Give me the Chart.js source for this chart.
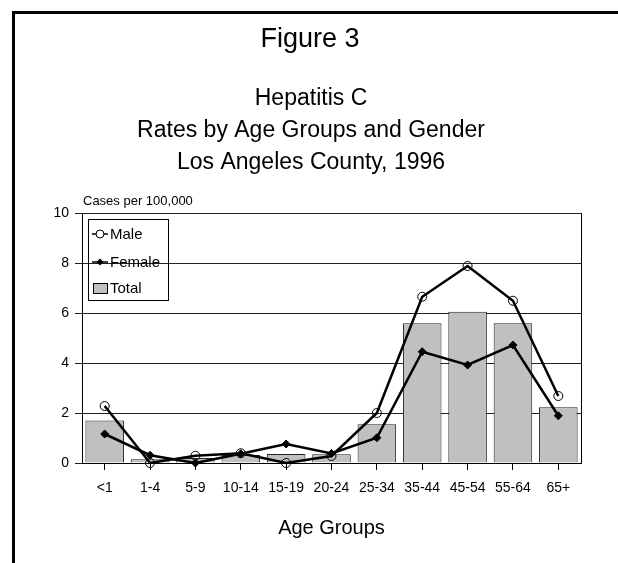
<!DOCTYPE html>
<html>
<head>
<meta charset="utf-8">
<script src="https://cdn.jsdelivr.net/npm/chart.js@4/dist/chart.umd.min.js"></script>
<style>
  html, body { margin: 0; padding: 0; background: #fff; }
  #wrap { width: 618px; height: 563px; position: relative; }
</style>
</head>
<body>
<div id="wrap"><canvas id="c" width="618" height="563"></canvas></div>
<script>
const categories = ['<1', '1-4', '5-9', '10-14', '15-19', '20-24', '25-34', '35-44', '45-54', '55-64', '65+'];
const maleRates = [2.28, 0, 0.29, 0.39, 0, 0.28, 2.0, 6.65, 7.88, 6.49, 2.68];
const femaleRates = [1.16, 0.31, 0, 0.37, 0.76, 0.38, 1.01, 4.45, 3.92, 4.72, 1.89];
const totalRates = [1.7, 0.15, 0.2, 0.32, 0.36, 0.35, 1.55, 5.59, 6.05, 5.59, 2.23];
const seriesNames = ['Male', 'Female', 'Total'];
const figureLabel = 'Figure 3';
const titleLines = ['Hepatitis C', 'Rates by Age Groups and Gender', 'Los Angeles County, 1996'];
const yUnitLabel = 'Cases per 100,000';
const xAxisTitle = 'Age Groups';
const yTicks = [0, 2, 4, 6, 8, 10];

const FONT = "'Liberation Sans', Arial, Helvetica, sans-serif";

const decor = {
  id: 'decor',
  beforeDraw(chart) {
    const ctx = chart.ctx;
    ctx.save();
    ctx.fillStyle = '#000';
    // frame: top and left edges
    ctx.fillRect(12, 11, 618 - 12, 3);
    ctx.fillRect(12, 11, 3, 563 - 11);
    // titles
    ctx.textAlign = 'center';
    ctx.textBaseline = 'alphabetic';
    ctx.font = '27px ' + FONT;
    ctx.fillText(figureLabel, 310, 47);
    ctx.font = '23px ' + FONT;
    const bases = [105, 137, 169];
    titleLines.forEach((t, i) => ctx.fillText(t, 311, bases[i]));
    // y unit label
    ctx.textAlign = 'left';
    ctx.font = '13px ' + FONT;
    ctx.fillText(yUnitLabel, 83, 205);
    ctx.restore();
  },
  afterDraw(chart) {
    const ctx = chart.ctx;
    const a = chart.chartArea;
    ctx.save();
    // right border of plot
    ctx.strokeStyle = '#000';
    ctx.lineWidth = 1;
    ctx.beginPath();
    ctx.moveTo(Math.round(a.right) + 0.5, a.top);
    ctx.lineTo(Math.round(a.right) + 0.5, a.bottom);
    ctx.stroke();
    // legend box
    const lx = a.left + 6, ly = a.top + 6, lw = 80, lh = 81;
    ctx.strokeRect(lx + 0.5, ly + 0.5, lw, lh);
    ctx.font = '15px ' + FONT;
    ctx.textBaseline = 'middle';
    ctx.textAlign = 'left';
    ctx.fillStyle = '#000';
    const rows = [ly + 15, ly + 43, ly + 69];
    // Male
    ctx.lineWidth = 1.5;
    ctx.beginPath(); ctx.moveTo(lx + 4, rows[0]); ctx.lineTo(lx + 20, rows[0]); ctx.stroke();
    ctx.lineWidth = 1;
    ctx.beginPath(); ctx.arc(lx + 12, rows[0], 4, 0, Math.PI * 2);
    ctx.fillStyle = '#fff'; ctx.fill(); ctx.stroke();
    ctx.fillStyle = '#000';
    ctx.fillText(seriesNames[0], lx + 22, rows[0] + 1);
    // Female
    ctx.lineWidth = 1.5;
    ctx.beginPath(); ctx.moveTo(lx + 4, rows[1]); ctx.lineTo(lx + 20, rows[1]); ctx.stroke();
    ctx.beginPath();
    ctx.moveTo(lx + 12, rows[1] - 3.5); ctx.lineTo(lx + 15.5, rows[1]);
    ctx.lineTo(lx + 12, rows[1] + 3.5); ctx.lineTo(lx + 8.5, rows[1]); ctx.closePath();
    ctx.fill();
    ctx.fillText(seriesNames[1], lx + 22, rows[1] + 1);
    // Total
    ctx.lineWidth = 1;
    ctx.fillStyle = '#c0c0c0';
    ctx.fillRect(lx + 5, rows[2] - 5, 14, 10);
    ctx.strokeRect(lx + 5.5, rows[2] - 4.5, 14, 10);
    ctx.fillStyle = '#000';
    ctx.fillText(seriesNames[2], lx + 22, rows[2] + 1);
    ctx.restore();
  }
};

new Chart(document.getElementById('c'), {
  data: {
    labels: categories,
    datasets: [
      {
        type: 'line', label: seriesNames[0], data: maleRates, order: 1,
        borderColor: '#000', borderWidth: 2.5, pointStyle: 'circle', pointRadius: 4.5,
        pointBackgroundColor: 'rgba(0,0,0,0)', pointBorderColor: '#000', pointBorderWidth: 1,
        tension: 0, clip: false
      },
      {
        type: 'line', label: seriesNames[1], data: femaleRates, order: 0,
        borderColor: '#000', borderWidth: 2.5, pointStyle: 'rectRot', pointRadius: 4,
        pointBackgroundColor: '#000', pointBorderColor: '#000', pointBorderWidth: 1,
        tension: 0, clip: false
      },
      {
        type: 'bar', label: seriesNames[2], data: totalRates, order: 2,
        backgroundColor: '#c0c0c0', borderColor: '#222', borderWidth: 1,
        categoryPercentage: 1, barPercentage: 0.85
      }
    ]
  },
  options: {
    responsive: false,
    animation: false,
    devicePixelRatio: 1,
    layout: { padding: { top: 213, left: 40, right: 37, bottom: 0 } },
    plugins: { legend: { display: false }, title: { display: false }, tooltip: { enabled: false } },
    scales: {
      x: {
        type: 'category',
        offset: true,
        grid: { offset: false, drawOnChartArea: false, drawTicks: true, tickLength: 7, color: '#000' },
        border: { display: true, color: '#000', width: 1 },
        ticks: { color: '#000', font: { family: FONT, size: 14 }, padding: 10, maxRotation: 0, autoSkip: false },
        title: { display: true, text: xAxisTitle, color: '#000', font: { family: FONT, size: 20 }, padding: { top: 0, bottom: 23 } },
        afterFit(s) { s.height = 100; }
      },
      y: {
        min: 0, max: 10,
        afterBuildTicks(s) { s.ticks = yTicks.map(v => ({ value: v })); },
        grid: { color: '#222', lineWidth: 1, drawTicks: true, tickLength: 7 },
        border: { display: true, color: '#000', width: 1 },
        ticks: { color: '#000', font: { family: FONT, size: 14 }, padding: 6 },
        afterFit(s) { s.width = 42; }
      }
    }
  },
  plugins: [decor]
});
</script>
</body>
</html>
